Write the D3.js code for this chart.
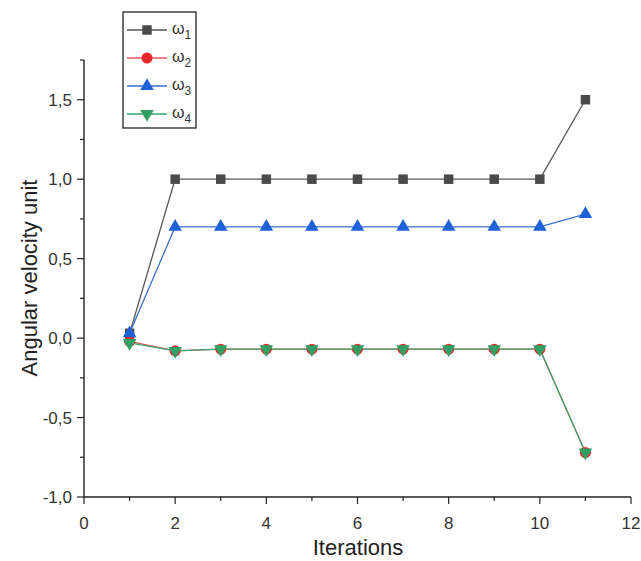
<!DOCTYPE html>
<html>
<head>
<meta charset="utf-8">
<script src="https://cdn.jsdelivr.net/npm/d3@7"></script>
<style>
  body { margin: 0; background: #fff; }
  text { font-family: "Liberation Sans", Arial, sans-serif; }
</style>
</head>
<body>
<svg id="chart" width="641" height="561"></svg>
<script>
// data
const iterations = [1, 2, 3, 4, 5, 6, 7, 8, 9, 10, 11];
const omega1 = [0.03, 1.0, 1.0, 1.0, 1.0, 1.0, 1.0, 1.0, 1.0, 1.0, 1.5];
const omega2 = [-0.02, -0.08, -0.07, -0.07, -0.07, -0.07, -0.07, -0.07, -0.07, -0.07, -0.72];
const omega3 = [0.03, 0.7, 0.7, 0.7, 0.7, 0.7, 0.7, 0.7, 0.7, 0.7, 0.78];
const omega4 = [-0.03, -0.08, -0.07, -0.07, -0.07, -0.07, -0.07, -0.07, -0.07, -0.07, -0.72];
const xTicks = [0, 2, 4, 6, 8, 10, 12];
const yTicks = [-1.0, -0.5, 0.0, 0.5, 1.0, 1.5];

const series = [
  { sub: '1', values: omega1, color: '#4a4a4a', line: '#555', symbol: d3.symbolSquare, size: 90, rot: 0 },
  { sub: '2', values: omega2, color: '#e8262b', line: '#e8575a', symbol: d3.symbolCircle, size: 95, rot: 0 },
  { sub: '3', values: omega3, color: '#1f62d8', line: '#3a6fd0', symbol: d3.symbolTriangle, size: 80, rot: 0 },
  { sub: '4', values: omega4, color: '#31a065', line: '#3aa56e', symbol: d3.symbolTriangle, size: 80, rot: 180 }
];

const svg = d3.select('#chart');
const x = d3.scaleLinear().domain([0, 12]).range([84, 631]);
const y = d3.scaleLinear().domain([-1.0, 1.75]).range([497, 60]);
// comma decimals, plain hyphen for negatives like the original
const fmt = d => d.toFixed(1).replace('.', ',');

// x axis
const xAxis = svg.append('g').attr('transform', 'translate(0,497)');
xAxis.append('line').attr('x1', x(0)).attr('x2', x(12)).attr('stroke', '#222').attr('stroke-width', 1.4);
xAxis.selectAll('.minor').data(d3.range(1, 12, 2)).join('line')
  .attr('x1', d => x(d)).attr('x2', d => x(d)).attr('y1', 0).attr('y2', 4)
  .attr('stroke', '#222').attr('stroke-width', 1.2);
xAxis.selectAll('.major').data(xTicks).join('line')
  .attr('x1', d => x(d)).attr('x2', d => x(d)).attr('y1', 0).attr('y2', 7)
  .attr('stroke', '#222').attr('stroke-width', 1.2);
xAxis.selectAll('text').data(xTicks).join('text')
  .attr('x', d => x(d)).attr('y', 32).attr('text-anchor', 'middle')
  .attr('font-size', 17).attr('fill', '#333').text(d => d);

// y axis
const yAxis = svg.append('g').attr('transform', 'translate(84,0)');
yAxis.append('line').attr('y1', y(-1.0)).attr('y2', y(1.75)).attr('stroke', '#222').attr('stroke-width', 1.4);
yAxis.selectAll('.minor').data(d3.range(-0.75, 1.8, 0.5)).join('line')
  .attr('y1', d => y(d)).attr('y2', d => y(d)).attr('x1', 0).attr('x2', -4)
  .attr('stroke', '#222').attr('stroke-width', 1.2);
yAxis.selectAll('.major').data(yTicks).join('line')
  .attr('y1', d => y(d)).attr('y2', d => y(d)).attr('x1', 0).attr('x2', -7)
  .attr('stroke', '#222').attr('stroke-width', 1.2);
yAxis.selectAll('text').data(yTicks).join('text')
  .attr('x', -12).attr('y', d => y(d) + 6).attr('text-anchor', 'end')
  .attr('font-size', 17).attr('fill', '#333').text(fmt);

// axis titles
svg.append('text').attr('x', 358).attr('y', 555).attr('text-anchor', 'middle')
  .attr('font-size', 22).attr('fill', '#222').text('Iterations');
svg.append('text').attr('transform', 'translate(37,278) rotate(-90)').attr('text-anchor', 'middle')
  .attr('font-size', 22).attr('fill', '#222').text('Angular velocity unit');

// lines and markers
const line = d3.line().x((d, i) => x(iterations[i])).y(d => y(d));
series.forEach(s => {
  svg.append('path').attr('d', line(s.values)).attr('fill', 'none')
    .attr('stroke', s.line).attr('stroke-width', 1.3);
});
series.forEach(s => {
  svg.append('g').selectAll('path').data(s.values).join('path')
    .attr('d', d3.symbol(s.symbol, s.size))
    .attr('transform', (d, i) => `translate(${x(iterations[i])},${y(d)}) rotate(${s.rot})`)
    .attr('fill', s.color);
});

// legend
const legend = svg.append('g');
legend.append('rect').attr('x', 123).attr('y', 12).attr('width', 73).attr('height', 116)
  .attr('fill', 'none').attr('stroke', '#222').attr('stroke-width', 1.3);
const rows = [30, 58, 86, 114];
series.forEach((s, i) => {
  const g = legend.append('g').attr('transform', `translate(0,${rows[i]})`);
  g.append('line').attr('x1', 127).attr('x2', 167).attr('stroke', s.line).attr('stroke-width', 1.3);
  g.append('path').attr('d', d3.symbol(s.symbol, s.size))
    .attr('transform', `translate(147,0) rotate(${s.rot})`).attr('fill', s.color);
  const t = g.append('text').attr('x', 172).attr('y', 4).attr('font-size', 16).attr('fill', '#333');
  t.append('tspan').text('ω');
  t.append('tspan').attr('dy', 5).attr('font-size', 12).text(s.sub);
});
</script>
</body>
</html>
